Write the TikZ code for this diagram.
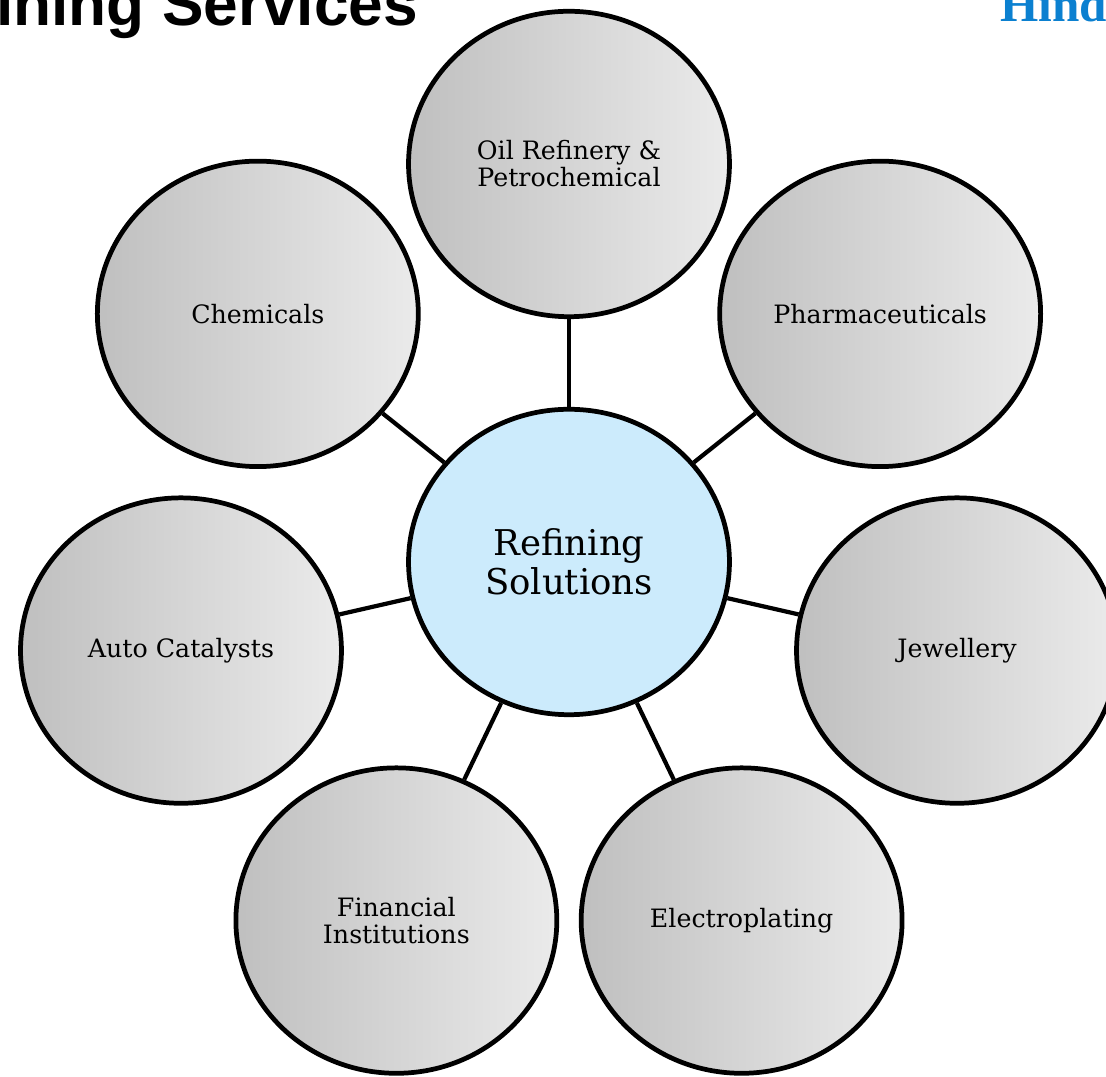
\documentclass[tikz,border=0pt]{standalone}
\usepackage{fontspec}
\setmainfont{DejaVu Serif}
\newfontfamily\headfont{Liberation Sans}
\newfontfamily\brandfont{Liberation Serif}
\usetikzlibrary{shapes.geometric}
\definecolor{hubblue}{HTML}{CCEBFC}
\definecolor{brandblue}{HTML}{0B80D0}

\begin{document}
\begin{tikzpicture}[x=0.02cm, y=0.02cm,
  sector/.style={ellipse, draw=black, line width=2.7pt, inner sep=0pt,
    minimum width=6.42cm, minimum height=6.11cm,
    left color=gray!50, right color=gray!16,
    align=center, font=\fontsize{14.4}{15.3}\selectfont},
  spoke/.style={black, line width=2.4pt}]
\useasboundingbox (-569,-515) rectangle (537,562);
\clip (-569,-515) rectangle (537,562);

% heading and logo, cut by the page edge
\node[anchor=base west, inner sep=0pt, font=\headfont\bfseries\fontsize{35.4}{40}\selectfont] (title) at (-573,536) {ining Services};
\node[anchor=base west, inner sep=0pt, text=brandblue, font=\brandfont\bfseries\fontsize{28}{32}\selectfont] (brand) at (431,540) {Hind};

% hub
\node[sector, fill=hubblue, left color=hubblue, right color=hubblue,
  font=\fontsize{20.2}{22.1}\selectfont] (hub) at (0,0) {Refining\\Solutions};

% seven sectors round the hub
\foreach \ang/\name/\txt in {90/oil/{Oil Refinery \&\\Petrochemical},
    141.43/chem/Chemicals, 192.86/auto/{Auto Catalysts},
    244.29/fin/{Financial\\Institutions}, 295.71/elec/Electroplating,
    347.14/jewel/Jewellery, 38.57/pharma/Pharmaceuticals} {
  \node[sector] (\name) at (\ang:398) {\txt};
  \draw[spoke] (hub) -- (\name);
}
\end{tikzpicture}
\end{document}
